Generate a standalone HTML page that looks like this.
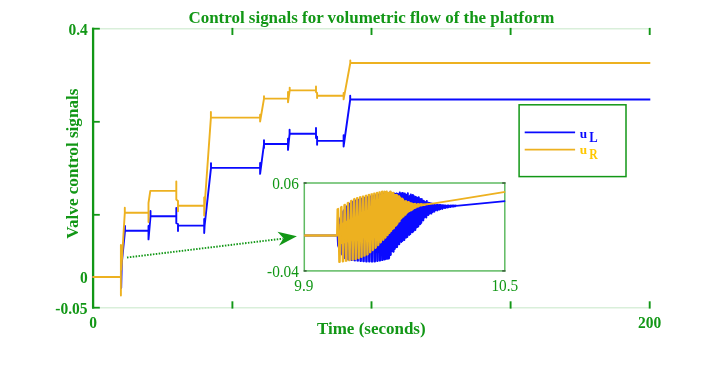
<!DOCTYPE html>
<html><head><meta charset="utf-8">
<style>
html,body{margin:0;padding:0;background:#fff;}
svg{display:block;will-change:transform;}
text{font-family:"Liberation Serif",serif;}
.b{font-weight:bold;}
</style></head><body>
<svg width="718" height="366" viewBox="0 0 718 366">
<rect width="718" height="366" fill="#fff"/>
<!-- faint top/bottom axes -->
<line x1="99" y1="28.8" x2="649" y2="28.8" stroke="#d9efda" stroke-width="1.6"/>
<line x1="99" y1="307.7" x2="649" y2="307.7" stroke="#d9efda" stroke-width="1.6"/>
<!-- left axis -->
<line x1="93.1" y1="27.8" x2="93.1" y2="308.6" stroke="#129716" stroke-width="2.3"/>
<!-- y ticks -->
<g stroke="#129716" stroke-width="1.8">
<line x1="92" y1="28.7" x2="99.8" y2="28.7"/>
<line x1="92" y1="121.8" x2="99.8" y2="121.8"/>
<line x1="92" y1="214.8" x2="99.8" y2="214.8"/>
<line x1="92" y1="307.7" x2="99.8" y2="307.7"/>
</g>
<!-- x ticks -->
<g stroke="#129716" stroke-width="1.9">
<line x1="232.4" y1="27.9" x2="232.4" y2="35"/>
<line x1="371.5" y1="27.9" x2="371.5" y2="35"/>
<line x1="510.6" y1="27.9" x2="510.6" y2="35"/>
<line x1="649.7" y1="27.9" x2="649.7" y2="35"/>
<line x1="232.4" y1="301.3" x2="232.4" y2="308.6"/>
<line x1="371.5" y1="301.3" x2="371.5" y2="308.6"/>
<line x1="510.6" y1="301.3" x2="510.6" y2="308.6"/>
<line x1="649.7" y1="301.3" x2="649.7" y2="308.6"/>
</g>
<!-- data -->
<path d="M92.3,277.0 L121.1,277.0 L121.2,288.0 L121.8,263.0 L125.0,231.0 L125.0,226.0 L125.0,230.8 L148.5,230.8 L148.5,226.0 L148.5,239.4 L150.5,216.3 L150.5,211.0 L150.5,216.3 L176.3,216.3 L176.3,207.9 L176.3,223.2 L178.0,224.0 L178.0,231.0 L178.0,225.6 L204.2,225.6 L204.2,219.0 L204.2,233.0 L204.6,225.6 L211.0,167.9 L211.0,163.1 L211.0,167.9 L260.1,167.9 L260.1,163.0 L260.1,173.9 L264.0,144.0 L264.0,140.2 L264.0,147.9 L264.0,144.0 L288.0,144.0 L288.0,138.8 L288.0,149.9 L289.6,133.7 L289.6,129.7 L289.6,135.3 L289.6,133.7 L316.0,133.7 L316.0,128.0 L316.0,138.0 L317.1,136.7 L317.1,144.8 L317.1,140.9 L343.6,140.9 L343.6,135.3 L343.6,146.5 L350.2,99.5 L350.2,95.8 L350.2,99.5 L650.3,99.5" fill="none" stroke="#0a0aff" stroke-width="1.9" stroke-linejoin="round"/>
<path d="M92.3,277.0 L120.9,277.0 L120.9,295.5 L120.9,245.0 L121.3,270.0 L124.8,212.7 L124.8,207.8 L124.8,212.7 L148.5,212.7 L148.5,222.0 L148.5,203.0 L150.3,190.9 L176.3,190.9 L176.3,181.4 L176.3,199.5 L178.0,200.9 L178.0,211.3 L178.0,205.8 L204.2,205.8 L204.2,197.4 L204.2,215.5 L204.6,205.8 L210.9,117.6 L210.9,112.0 L210.9,117.6 L260.1,117.6 L260.1,114.8 L260.1,121.5 L264.0,98.6 L264.0,96.3 L264.0,98.6 L288.0,98.6 L288.0,92.0 L288.0,102.3 L289.7,90.4 L289.7,87.6 L289.7,90.4 L316.0,90.4 L316.0,86.5 L316.0,92.0 L317.1,93.0 L317.1,98.0 L317.1,95.7 L343.6,95.7 L343.6,92.9 L343.6,99.4 L350.3,63.0 L350.3,60.4 L350.3,63.0 L650.3,63.0" fill="none" stroke="#edb120" stroke-width="1.9" stroke-linejoin="round"/>
<!-- labels -->
<g fill="#129716" class="b" font-size="15.5">
<text transform="translate(87.8,34.8) scale(1,1.13)" text-anchor="end">0.4</text>
<text transform="translate(87.8,282.8) scale(1,1.13)" text-anchor="end">0</text>
<text transform="translate(87.6,313.6) scale(1,1.13)" text-anchor="end">-0.05</text>
<text transform="translate(93,327.85) scale(1,1.13)" text-anchor="middle">0</text>
<text transform="translate(649.6,327.85) scale(1,1.13)" text-anchor="middle">200</text>
</g>
<text x="371.4" y="22.7" text-anchor="middle" class="b" font-size="16.96" fill="#129716">Control signals for volumetric flow of the platform</text>
<text transform="translate(371.3,333.9) scale(1,1.04)" text-anchor="middle" class="b" font-size="17" fill="#129716">Time (seconds)</text>
<text transform="translate(78.4,163.7) rotate(-90)" text-anchor="middle" class="b" font-size="17.1" fill="#129716">Valve control signals</text>
<!-- legend -->
<rect x="519.1" y="104.8" width="106.9" height="71.8" fill="#fff" stroke="#129716" stroke-width="1.5"/>
<line x1="524.7" y1="132.4" x2="575.1" y2="132.4" stroke="#0a0aff" stroke-width="1.9"/>
<line x1="524.7" y1="149.6" x2="575.1" y2="149.6" stroke="#edb120" stroke-width="1.7"/>
<g class="b">
<text x="579.7" y="138" font-size="13.2" fill="#0a0aff">u</text>
<text transform="translate(589.2,141.6) scale(0.93,1)" font-size="13.6" fill="#0a0aff">L</text>
<text x="579.7" y="154.4" font-size="13.2" fill="#ffc800">u</text>
<text transform="translate(589.2,158.7) scale(0.85,1)" font-size="13.8" fill="#ffc800">R</text>
</g>
<!-- arrow -->
<line x1="127" y1="257.5" x2="283" y2="238.6" stroke="#129716" stroke-width="1.9" stroke-dasharray="1.5 1.4"/>
<polygon points="296.9,236.3 277.5,231.8 283.5,238.3 278.9,245.8" fill="#129716"/>
<!-- inset -->
<rect x="304.3" y="183.0" width="200.5" height="87.9" fill="#fff" stroke="#5fba62" stroke-width="1.5"/>
<path d="M304.3,235.5 L337.5,235.5 L338.0,245.4 L338.8,247.5 L339.7,219.9 L340.5,217.4 L341.4,253.6 L342.2,254.7 L343.1,211.7 L343.9,210.1 L344.8,258.3 L345.6,258.7 L346.5,206.7 L347.3,206.0 L348.1,259.4 L348.9,259.7 L349.7,203.8 L350.5,203.2 L351.3,260.1 L352.0,260.2 L352.8,201.8 L353.5,201.4 L354.3,260.4 L355.0,260.5 L355.8,200.3 L356.5,200.1 L357.3,260.7 L358.0,260.8 L358.8,199.5 L359.5,199.3 L360.3,261.0 L361.0,261.1 L361.7,198.7 L362.4,198.5 L363.2,261.3 L363.9,261.4 L364.7,197.9 L365.4,197.7 L366.1,261.5 L366.8,261.5 L367.6,197.2 L368.2,197.0 L369.0,261.6 L369.7,261.6 L370.4,196.4 L371.1,196.3 L371.8,261.7 L372.4,261.7 L373.1,195.8 L373.8,195.6 L374.5,261.6 L375.1,261.5 L375.8,195.2 L376.4,195.0 L377.1,261.1 L377.7,261.0 L378.4,194.6 L379.0,194.4 L379.7,260.7 L380.3,260.6 L380.9,194.0 L381.5,193.8 L382.2,260.2 L382.8,260.1 L383.4,193.4 L384.0,193.3 L384.6,259.5 L385.1,259.4 L385.7,194.4 L386.2,194.3 L386.8,258.9 L387.3,258.8 L387.8,194.6 L388.3,194.6 L388.7,258.7 L389.2,257.9 L389.6,192.4 L390.0,192.4 L390.5,255.2 L390.9,254.5 L391.3,192.6 L391.6,192.6 L392.0,251.1 L392.3,250.7 L392.7,194.5 L393.0,194.5 L393.4,251.9 L393.7,251.5 L394.0,193.5 L394.3,193.5 L394.6,249.2 L394.9,248.8 L395.2,194.2 L395.5,194.2 L395.8,247.3 L396.1,247.0 L396.4,193.4 L396.7,193.4 L397.0,247.2 L397.2,246.9 L397.5,194.0 L397.8,194.0 L398.1,244.3 L398.3,244.0 L398.6,194.4 L398.9,194.4 L399.1,244.3 L399.4,244.0 L399.7,192.4 L399.9,192.4 L400.2,241.0 L400.4,240.7 L400.7,195.4 L400.9,195.4 L401.2,242.0 L401.4,241.8 L401.7,193.2 L401.9,193.2 L402.2,241.2 L402.4,241.0 L402.7,192.8 L402.9,192.8 L403.2,238.5 L403.4,238.3 L403.7,195.5 L403.9,195.5 L404.2,240.2 L404.4,240.0 L404.7,193.4 L404.9,193.4 L405.2,237.9 L405.4,237.8 L405.7,194.7 L405.9,194.7 L406.2,237.6 L406.4,237.5 L406.7,195.2 L406.9,195.2 L407.2,237.1 L407.4,236.9 L407.7,193.2 L407.9,193.2 L408.2,234.6 L408.4,234.3 L408.7,196.6 L408.9,196.6 L409.2,235.0 L409.4,234.7 L409.7,195.9 L409.9,196.0 L410.2,234.2 L410.4,233.9 L410.7,194.5 L410.9,194.5 L411.2,232.2 L411.4,232.0 L411.7,197.5 L411.9,197.6 L412.2,232.3 L412.4,232.1 L412.7,194.8 L412.9,194.9 L413.2,231.7 L413.4,231.4 L413.7,196.0 L413.9,196.0 L414.2,229.5 L414.4,229.3 L414.7,197.1 L414.9,197.2 L415.2,230.2 L415.4,230.0 L415.7,196.7 L415.9,196.8 L416.2,227.8 L416.4,227.5 L416.7,197.8 L416.9,197.9 L417.2,227.0 L417.4,226.8 L417.7,197.6 L417.9,197.6 L418.2,226.5 L418.4,226.3 L418.7,197.2 L418.9,197.3 L419.2,224.4 L419.4,224.0 L419.7,199.0 L419.9,199.1 L420.2,224.3 L420.4,224.0 L420.7,199.0 L420.9,199.1 L421.2,223.0 L421.4,222.7 L421.7,199.0 L421.9,199.1 L422.2,219.1 L422.4,218.7 L422.7,200.7 L422.9,200.8 L423.2,220.5 L423.4,220.2 L423.7,200.6 L423.9,200.8 L424.2,217.7 L424.4,217.4 L424.7,201.7 L424.9,201.8 L425.2,216.0 L425.4,215.8 L425.7,203.1 L425.9,203.2 L426.2,217.6 L426.4,217.4 L426.7,201.0 L426.9,201.0 L427.2,213.9 L427.4,213.7 L427.7,204.3 L427.9,204.4 L428.2,215.2 L428.4,215.0 L428.7,202.7 L428.9,202.8 L429.2,213.8 L429.4,213.6 L429.7,202.8 L429.9,202.9 L430.2,212.0 L430.4,211.9 L430.7,204.2 L430.9,204.3 L431.2,213.7 L431.4,213.6 L431.7,203.4 L431.9,203.5 L432.2,212.3 L432.4,212.2 L432.7,204.2 L432.9,204.3 L433.2,211.6 L433.4,211.5 L433.7,205.7 L433.9,205.7 L434.2,211.8 L434.4,211.7 L434.7,204.7 L434.9,204.7 L435.2,210.4 L435.4,210.3 L435.7,205.9 L435.9,205.9 L436.2,209.9 L436.4,209.8 L436.7,204.8 L436.9,204.8 L437.2,210.5 L437.4,210.4 L437.7,204.6 L437.9,204.6 L438.2,208.9 L438.4,208.8 L438.7,205.5 L438.9,205.5 L439.2,209.7 L439.4,209.6 L439.7,205.0 L439.9,205.0 L440.2,209.1 L440.4,209.1 L440.7,205.0 L440.9,205.1 L441.2,208.3 L441.4,208.3 L441.7,205.5 L441.9,205.5 L442.2,209.0 L442.4,209.0 L442.7,205.1 L442.9,205.1 L443.2,207.9 L443.4,207.8 L443.7,205.5 L443.9,205.5 L444.2,208.0 L444.4,207.9 L444.7,205.5 L444.9,205.5 L445.2,208.0 L445.4,207.9 L445.7,205.3 L445.9,205.3 L446.2,207.4 L446.4,207.3 L446.7,205.8 L446.9,205.8 L447.2,207.5 L447.4,207.5 L447.7,205.4 L447.9,205.4 L448.2,207.3 L448.4,207.3 L448.7,205.4 L448.9,205.4 L449.2,206.9 L449.4,206.8 L449.7,205.8 L449.9,205.8 L450.2,207.0 L450.4,207.0 L450.7,205.3 L450.9,205.3 L451.2,206.7 L451.4,206.7 L451.7,205.6 L451.9,205.6 L452.2,206.5 L452.4,206.5 L452.7,205.5 L452.9,205.5 L453.2,206.7 L453.4,206.7 L453.7,205.3 L453.9,205.3 L454.2,206.4 L454.4,206.3 L454.7,205.7 L454.9,205.7 L455.2,206.3 L455.4,206.3 L455.7,205.5 L455.9,205.5 L456.0,205.8 L476.9,203.9 L505.2,201.1" fill="none" stroke="#0a0aff" stroke-width="1.8" stroke-linejoin="round"/>
<polygon points="339.5,224.2 340.5,223.7 341.5,223.2 342.5,222.8 343.5,222.3 344.5,221.8 345.5,221.3 346.5,220.8 347.5,220.4 348.5,219.9 349.5,219.4 350.5,218.9 351.5,218.4 352.5,218.0 353.5,217.5 354.5,217.0 355.5,216.6 356.5,216.4 357.5,216.1 358.5,215.8 359.5,215.4 360.5,215.1 361.5,214.8 362.5,214.5 363.5,214.2 364.5,213.9 365.5,213.6 366.5,213.3 367.5,213.0 368.5,212.6 369.5,212.1 370.5,211.7 371.5,211.3 372.5,210.8 373.5,210.4 374.5,210.0 375.5,209.6 376.5,209.1 377.5,208.6 378.5,208.1 379.5,207.7 380.5,207.2 381.5,206.7 382.5,206.2 383.5,205.8 384.5,205.6 385.5,205.3 386.5,205.1 387.5,204.8 388.5,204.6 389.5,204.3 390.5,204.0 391.5,204.0 392.5,204.1 393.5,204.1 394.5,204.1 395.5,204.1 396.5,204.1 397.5,204.1 398.5,204.1 399.5,204.2 400.5,204.3 401.5,204.4 402.5,204.5 403.5,204.7 404.5,204.9 405.5,205.1 406.5,205.1 407.5,205.1 408.5,205.1 409.5,205.2 410.5,205.3 411.5,205.4 412.5,205.5 413.5,205.5 414.5,205.3 415.5,205.2 416.5,205.1 417.5,204.9 418.5,204.8 419.5,204.7 419.5,205.4 418.5,205.6 417.5,205.9 416.5,206.3 415.5,206.6 414.5,207.0 413.5,207.3 412.5,207.6 411.5,207.8 410.5,208.1 409.5,208.3 408.5,208.8 407.5,209.2 406.5,209.7 405.5,210.1 404.5,210.5 403.5,210.8 402.5,211.3 401.5,212.0 400.5,212.6 399.5,213.3 398.5,213.9 397.5,214.6 396.5,215.4 395.5,216.0 394.5,216.6 393.5,217.2 392.5,217.8 391.5,218.5 390.5,219.1 389.5,219.8 388.5,220.5 387.5,221.3 386.5,222.0 385.5,222.7 384.5,223.4 383.5,224.1 382.5,224.9 381.5,225.7 380.5,226.5 379.5,227.3 378.5,228.1 377.5,228.9 376.5,229.7 375.5,230.3 374.5,231.0 373.5,231.7 372.5,232.3 371.5,233.0 370.5,233.6 369.5,234.3 368.5,235.0 367.5,235.6 366.5,235.9 365.5,236.3 364.5,236.6 363.5,237.0 362.5,237.4 361.5,237.7 360.5,238.1 359.5,238.4 358.5,238.8 357.5,239.2 356.5,239.5 355.5,239.8 354.5,240.1 353.5,240.4 352.5,240.7 351.5,241.0 350.5,241.3 349.5,241.6 348.5,241.9 347.5,242.2 346.5,242.6 345.5,242.9 344.5,243.2 343.5,243.5 342.5,243.8 341.5,244.1 340.5,244.4 339.5,244.8" fill="#edb120"/>
<path d="M304.3,235.5 L336.9,235.5 L337.4,209.3 L338.2,208.8 L339.1,262.1 L339.9,262.0 L340.8,207.2 L341.7,206.7 L342.6,261.5 L343.4,261.4 L344.2,205.1 L345.0,204.6 L345.9,261.0 L346.7,260.8 L347.6,203.0 L348.3,202.6 L349.2,260.4 L349.9,260.3 L350.8,201.1 L351.5,200.6 L352.3,259.8 L353.0,259.7 L353.8,199.2 L354.5,198.8 L355.3,259.3 L356.0,259.2 L356.8,198.0 L357.5,197.8 L358.3,258.3 L359.0,258.0 L359.8,197.2 L360.5,197.0 L361.2,257.1 L361.9,256.8 L362.7,196.4 L363.4,196.3 L364.2,255.9 L364.9,255.6 L365.6,195.7 L366.3,195.5 L367.1,254.8 L367.8,254.4 L368.5,194.9 L369.2,194.7 L369.9,252.6 L370.6,252.0 L371.3,194.2 L372.0,194.0 L372.7,250.3 L373.3,249.7 L374.0,193.5 L374.7,193.4 L375.4,248.0 L376.0,247.4 L376.7,192.9 L377.3,192.7 L378.0,245.4 L378.6,244.8 L379.3,192.2 L379.9,192.1 L380.5,242.7 L381.1,242.1 L381.8,191.6 L382.3,191.5 L383.0,240.1 L383.6,239.5 L384.2,191.5 L384.7,191.6 L385.3,237.8 L385.8,237.2 L386.4,191.3 L386.9,191.4 L387.4,235.3 L387.9,234.8 L388.4,192.7 L388.9,192.8 L389.3,233.0 L389.8,232.6 L390.2,191.4 L390.6,191.4 L391.0,231.2 L391.4,230.8 L391.8,192.7 L392.1,192.9 L392.5,229.1 L392.8,228.7 L393.2,192.6 L393.5,192.8 L393.8,228.4 L394.1,228.0 L394.4,194.7 L394.7,194.8 L395.0,226.1 L395.3,225.7 L395.6,194.8 L395.9,194.9 L396.2,225.5 L396.5,225.1 L396.8,194.7 L397.0,194.9 L397.3,224.0 L397.6,223.6 L397.9,196.1 L398.1,196.2 L398.4,221.9 L398.7,221.6 L398.9,196.1 L399.2,196.2 L399.5,221.5 L399.7,221.2 L400.0,197.2 L400.2,197.4 L400.5,219.3 L400.7,219.0 L401.0,198.5 L401.2,198.6 L401.5,218.2 L401.7,217.9 L402.0,198.3 L402.2,198.5 L402.5,217.1 L402.7,216.7 L403.0,199.3 L403.2,199.4 L403.5,216.6 L403.7,216.4 L404.0,201.1 L404.2,201.2 L404.5,214.9 L404.7,214.7 L405.0,201.1 L405.2,201.2 L405.5,214.9 L405.7,214.7 L406.0,201.0 L406.2,201.1 L406.5,213.3 L406.7,213.1 L407.0,202.3 L407.2,202.4 L407.5,212.3 L407.7,212.1 L408.0,201.8 L408.2,201.9 L408.5,211.7 L408.7,211.5 L409.0,202.1 L409.2,202.2 L409.5,211.2 L409.7,211.1 L410.0,203.0 L410.2,203.1 L410.5,209.8 L410.7,209.7 L411.0,203.1 L411.2,203.2 L411.5,210.4 L411.7,210.2 L412.0,203.4 L412.2,203.5 L412.5,209.5 L412.7,209.4 L413.0,204.2 L413.2,204.2 L413.5,208.5 L413.7,208.3 L414.0,203.8 L414.2,203.8 L414.5,208.1 L414.7,208.0 L415.0,203.7 L415.2,203.7 L415.5,207.9 L415.7,207.8 L416.0,204.4 L416.2,204.4 L416.5,206.9 L416.7,206.8 L417.0,204.3 L417.2,204.3 L417.5,206.8 L417.7,206.7 L418.0,203.9 L418.2,203.9 L418.5,206.6 L418.7,206.5 L419.0,204.3 L419.2,204.3 L419.5,205.9 L419.7,205.8 L420.0,204.2 L420.2,204.2 L420.5,205.7 L420.7,205.7 L421.0,204.0 L421.2,204.0 L421.5,205.7 L421.7,205.7 L422.0,204.2 L422.2,204.2 L422.5,205.2 L422.7,205.2 L423.0,204.3 L423.2,204.3 L423.5,205.0 L423.7,205.0 L424.0,204.1 L424.2,204.1 L424.5,205.0 L424.7,205.0 L425.0,204.2 L425.2,204.2 L425.5,204.7 L425.7,204.6 L426.0,204.2 L426.2,204.2 L426.5,204.4 L426.7,204.4 L427.0,204.0 L427.2,204.0 L427.5,204.4 L427.7,204.3 L428.0,203.9 L428.2,203.9 L428.5,204.2 L428.7,204.1 L429.0,203.9 L429.2,203.9 L429.5,204.0 L429.7,204.0 L430.0,203.7 L430.2,203.7 L430.5,203.9 L430.7,203.9 L431.0,203.7 L431.2,203.7 L431.5,203.8 L431.7,203.7 L432.0,203.6 L432.2,203.6 L432.5,203.6 L432.7,203.6 L433.0,203.5 L433.2,203.5 L433.5,203.5 L433.7,203.4 L434.0,203.4 L434.2,203.4 L434.5,203.4 L434.7,203.4 L434.0,203.4 L456.0,199.9 L505.2,191.9" fill="none" stroke="#edb120" stroke-width="1.8" stroke-linejoin="round"/>
<line x1="304.3" y1="235.5" x2="337.5" y2="235.5" stroke="#edb120" stroke-width="2.1"/>
<g stroke="#3a5a3a" stroke-width="1.5">
<line x1="303.7" y1="183" x2="306.6" y2="183"/>
<line x1="303.7" y1="270.9" x2="306.6" y2="270.9"/>
<line x1="502.2" y1="183" x2="505.5" y2="183"/>
<line x1="502.2" y1="270.9" x2="505.5" y2="270.9"/>
</g>
<g fill="#129716" font-size="15.3">
<text transform="translate(298.9,188.85) scale(1,1.14)" text-anchor="end">0.06</text>
<text transform="translate(298.9,276.8) scale(1,1.14)" text-anchor="end">-0.04</text>
<text transform="translate(303.9,291.3) scale(1,1.14)" text-anchor="middle">9.9</text>
<text transform="translate(504.8,291.3) scale(1,1.14)" text-anchor="middle">10.5</text>
</g>
</svg>
</body></html>
